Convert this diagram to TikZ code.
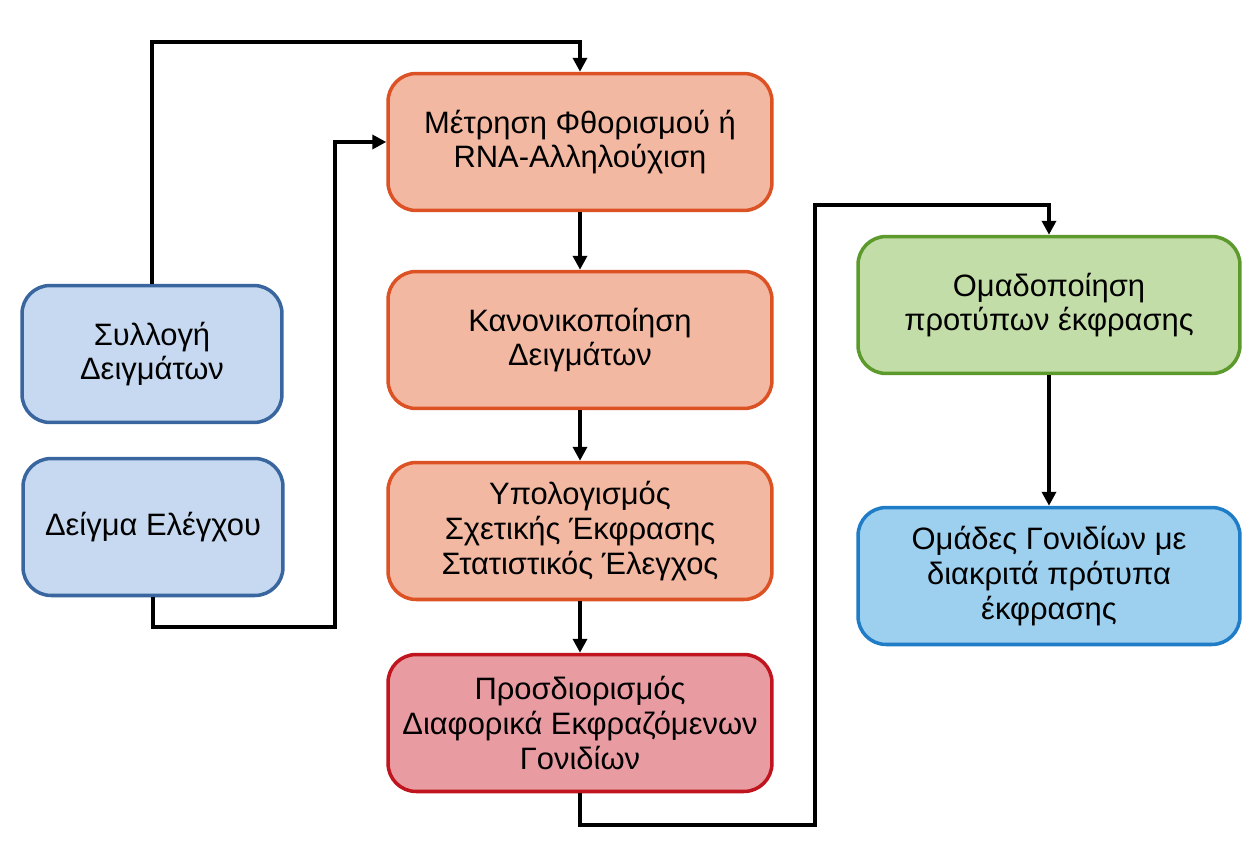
\documentclass[tikz,border=0pt]{standalone}
\usepackage{fontspec}
\setmainfont{Liberation Sans}
\usetikzlibrary{positioning, arrows.meta, calc}

\definecolor{sampfill}{HTML}{C6D9F0}
\definecolor{sampdraw}{HTML}{3A66A0}
\definecolor{procfill}{HTML}{F2B8A2}
\definecolor{procdraw}{HTML}{DC5224}
\definecolor{degfill}{HTML}{E89CA2}
\definecolor{degdraw}{HTML}{C0141E}
\definecolor{clusfill}{HTML}{C3DDA8}
\definecolor{clusdraw}{HTML}{5C9A2C}
\definecolor{grpfill}{HTML}{9DCFEE}
\definecolor{grpdraw}{HTML}{1F7CC6}

\begin{document}
\begin{tikzpicture}[
    x=0.02cm, y=-0.02cm,
    font=\fontsize{17.6}{19.8}\selectfont,
    box/.style={draw, rounded corners=16pt, line width=2pt, align=center,
        minimum width=7.68cm, minimum height=2.74cm, inner sep=2pt},
    sample/.style={box, fill=sampfill, draw=sampdraw, minimum width=5.2cm},
    proc/.style={box, fill=procfill, draw=procdraw},
    deg/.style={box, fill=degfill, draw=degdraw},
    clus/.style={box, fill=clusfill, draw=clusdraw, minimum width=7.64cm},
    grp/.style={box, fill=grpfill, draw=grpdraw, minimum width=7.64cm},
    arrow/.style={-{Triangle[length=2.8mm, width=2.8mm]}, line width=2.2pt}
]
    \useasboundingbox (0,0) rectangle (1255,842);

    % Samples
    \node[sample] (collect) at (152, 354) {Συλλογή\\Δειγμάτων};
    \node[sample] (control) at (153, 527) {Δείγμα Ελέγχου};

    % Processing chain
    \node[proc] (measure) at (580, 142) {Μέτρηση Φθορισμού ή\\RNA-Αλληλούχιση};
    \node[proc] (normal) at (580, 340) {Κανονικοποίηση\\Δειγμάτων};
    \node[proc] (relexp) at (580, 531) {Υπολογισμός\\Σχετικής Έκφρασης\\Στατιστικός Έλεγχος};
    \node[deg] (identify) at (580, 723) {Προσδιορισμός\\Διαφορικά Εκφραζόμενων\\Γονιδίων};

    % Clustering
    \node[clus] (cluster) at (1049, 305) {Ομαδοποίηση\\προτύπων έκφρασης};
    \node[grp] (groups) at (1049, 576) {Ομάδες Γονιδίων με\\διακριτά πρότυπα\\έκφρασης};

    % Connectors
    \draw[arrow] (collect.north) -- (collect.north |- 0,42) -| (measure.north);
    \draw[arrow] (control.south) -- (control.south |- 0,627) -| (335, 142) -- (measure.west);
    \draw[arrow] (measure) -- (normal);
    \draw[arrow] (normal) -- (relexp);
    \draw[arrow] (relexp) -- (identify);
    \draw[arrow] (identify.south) -- (identify.south |- 0,825) -| (815, 205) -| (cluster.north);
    \draw[arrow] (cluster) -- (groups);
\end{tikzpicture}
\end{document}
